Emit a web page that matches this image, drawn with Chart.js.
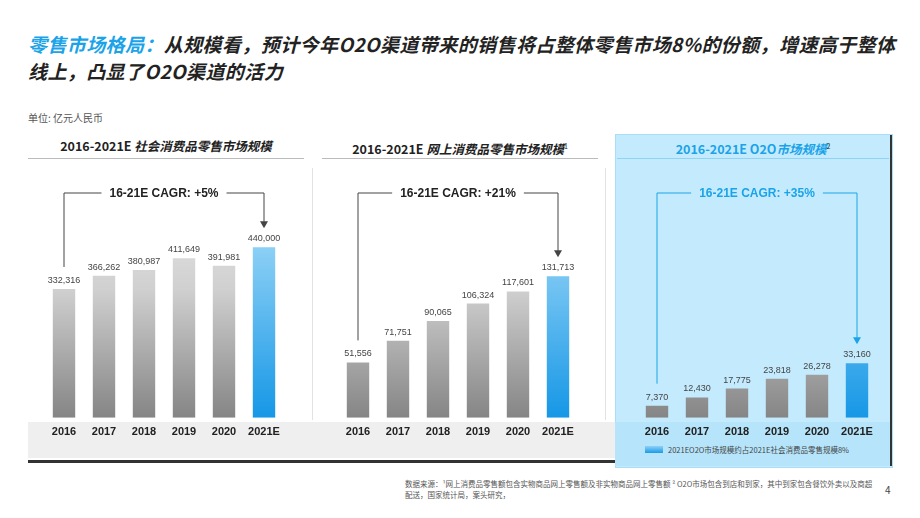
<!DOCTYPE html>
<html><head><meta charset="utf-8">
<script src="https://cdn.jsdelivr.net/npm/chart.js@4"></script>
<style>
body{margin:0;width:920px;height:518px;background:#fff;font-family:"Noto Sans CJK SC","Liberation Sans",sans-serif;position:relative;overflow:hidden}
.a{position:absolute}
.title{left:28px;top:30px;width:880px;font-size:19px;font-weight:bold;font-style:italic;line-height:27px;color:#222;letter-spacing:0.4px}
.title span{color:#1aa3e8}
.hdr{font-size:12.5px;font-weight:bold;color:#222;text-align:center;height:24px;line-height:24px;border-bottom:1.5px solid #bbb}
.hdr i{font-style:italic}
canvas{position:absolute}
</style></head><body>
<div class="a title"><span>零售市场格局：</span>从规模看，预计今年O2O渠道带来的销售将占整体零售市场8%的份额，增速高于整体线上，凸显了O2O渠道的活力</div>
<div class="a" style="left:28px;top:110px;font-size:10px;color:#555">单位: 亿元人民币</div>
<div class="a" style="left:615px;top:134px;width:276px;height:332px;background:#c4ebfd;border:1px solid #a9def7"></div>
<div class="a" style="left:28px;top:422px;width:587px;height:36px;background:#efefef"></div>
<div class="a" style="left:28px;top:460px;width:587px;height:3px;background:#333"></div>
<div class="a" style="left:615px;top:422px;width:276px;height:44px;background:#b5e4fb"></div>
<div class="a" style="left:890px;top:135px;width:2px;height:331px;background:#333"></div>
<div class="a" style="left:312px;top:168px;width:1px;height:252px;background:#e2e2e2"></div>
<div class="a" style="left:605px;top:168px;width:1px;height:252px;background:#e2e2e2"></div>
<div class="a hdr" style="left:28px;top:134px;width:276px"><span>2016-2021E </span><i>社会消费品零售市场规模</i></div>
<div class="a hdr" style="left:322px;top:134px;width:276px"><span>2016-2021E </span><i>网上消费品零售市场规模</i><sup style="font-size:7px;font-weight:normal">1</sup></div>
<div class="a hdr" style="left:617px;top:134px;width:272px;color:#1aa3e8;border-bottom:1.5px solid #8fd3f5"><span>2016-2021E O2O</span><i>市场规模</i><sup style="font-size:7px;font-weight:normal;color:#222">2</sup></div>
<div class="a" style="left:645px;top:446px;width:18px;height:7px;background:linear-gradient(#8fd0f5,#1a9be8)"></div>
<div class="a" style="left:668px;top:444px;font-size:7.5px;color:#444">2021EO2O市场规模约占2021E社会消费品零售规模8%</div>
<div class="a" style="left:405px;top:478px;width:470px;font-size:7.5px;color:#555;line-height:11px">数据来源：¹网上消费品零售额包含实物商品网上零售额及非实物商品网上零售额 ² O2O市场包含到店和到家，其中到家包含餐饮外卖以及商超配送，国家统计局，案头研究，</div>
<div class="a" style="left:885px;top:482px;font-size:10px;color:#444">4</div>
<canvas id="c1" class="a" style="left:44px;top:160px;width:240px;height:279px" width="240" height="279"></canvas>
<canvas id="c2" class="a" style="left:338px;top:160px;width:240px;height:279px" width="240" height="279"></canvas>
<canvas id="c3" class="a" style="left:637px;top:160px;width:240px;height:279px" width="240" height="279"></canvas>
<script>
const years=["2016","2017","2018","2019","2020","2021E"];
const retail=[332316,366262,380987,411649,391981,440000];
const online=[51556,71751,90065,106324,117601,131713];
const o2o=[7370,12430,17775,23818,26278,33160];
const cagr=["16-21E CAGR: +5%","16-21E CAGR: +21%","16-21E CAGR: +35%"];
const maxes=[665000,240000,157000];

function make(id,data,max,label,blue){
  const overlay={id:'ov',afterDatasetsDraw(ch){
    const c=ch.ctx,m=ch.getDatasetMeta(0);
    c.save();c.font='9px "Liberation Sans"';c.fillStyle='#444';c.textAlign='center';
    m.data.forEach((b,i)=>{c.fillText(data[i].toLocaleString('en-US'),b.x,b.y-6);});
    const f=m.data[0],l=m.data[m.data.length-1],ly=33;
    c.strokeStyle=blue?'#1aa3e8':'#444';c.lineWidth=1;
    c.beginPath();c.moveTo(f.x,f.y-22);c.lineTo(f.x,ly);c.lineTo(l.x,ly);c.lineTo(l.x,l.y-24);c.stroke();
    c.fillStyle=blue?'#1aa3e8':'#444';c.beginPath();c.moveTo(l.x-4,l.y-26);c.lineTo(l.x+4,l.y-26);c.lineTo(l.x,l.y-19);c.fill();
    c.font='bold 12px "Liberation Sans"';const w=c.measureText(label).width+16,cx=(f.x+l.x)/2;
    c.fillStyle=blue?'#c4ebfd':'#fff';c.fillRect(cx-w/2,ly-8,w,16);
    c.fillStyle=blue?'#1aa3e8':'#222';c.textBaseline='middle';c.fillText(label,cx,ly+1);
    c.restore();}};
  new Chart(document.getElementById(id),{type:'bar',
    data:{labels:years,datasets:[{data:data,barPercentage:0.56,categoryPercentage:1,
      backgroundColor:(ctx)=>{const a=ctx.chart.chartArea;if(!a)return '#aaa';
        const g=ctx.chart.ctx.createLinearGradient(0,a.top,0,a.bottom);
        if(ctx.dataIndex===5){g.addColorStop(0,'#c8ecfd');g.addColorStop(1,'#1697e6');}
        else{g.addColorStop(0,'#f0f0f0');g.addColorStop(0.5,'#d0d0d0');g.addColorStop(1,'#858585');}
        return g;}}]},
    options:{responsive:false,animation:false,layout:{padding:0},
      plugins:{legend:{display:false},tooltip:{enabled:false}},
      scales:{x:{grid:{display:false},border:{display:false},
        ticks:{color:'#222',font:{weight:'bold',size:11,family:'Liberation Sans'},padding:0}},
        y:{display:false,min:0,max:max}}}
    ,plugins:[overlay]});
}
make('c1',retail,maxes[0],cagr[0],false);
make('c2',online,maxes[1],cagr[1],false);
make('c3',o2o,maxes[2],cagr[2],true);
</script></body></html>
